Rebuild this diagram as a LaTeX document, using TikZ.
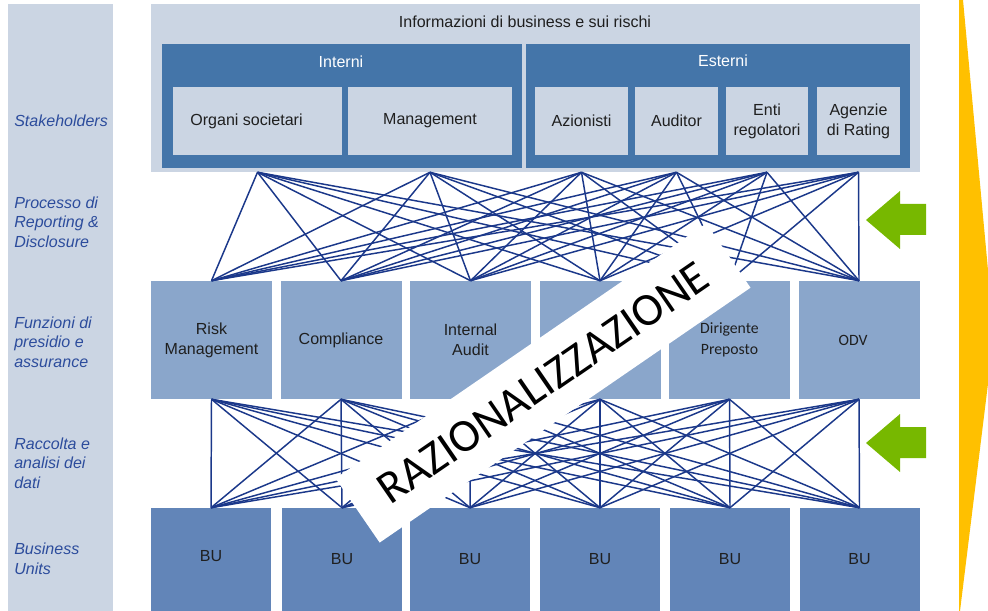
\documentclass[tikz,border=0pt]{standalone}
\usepackage{fontspec}
\setmainfont{Liberation Sans}
\newfontfamily\calibri{Carlito}
\usepackage{color}
\definecolor{paleblue}{HTML}{CBD5E3}
\definecolor{midblue}{HTML}{4475A9}
\definecolor{funcblue}{HTML}{8AA6CB}
\definecolor{bublue}{HTML}{6285B8}
\definecolor{wireblue}{HTML}{1B388A}
\definecolor{labelblue}{HTML}{2C4C9C}
\definecolor{arrowgreen}{HTML}{77B800}
\definecolor{gold}{HTML}{FFC000}
\newcommand{\unitpx}{0.25mm}
\tikzset{
  block/.style={rectangle,inner sep=0pt,draw=none,align=center,text=black!88,
    font=\fontsize{11.4}{5mm}\selectfont},
  pale/.style={block,fill=paleblue},
  group/.style={block,fill=midblue},
  func/.style={block,fill=funcblue,minimum width=121*\unitpx,minimum height=118*\unitpx},
  unit/.style={block,fill=bublue,minimum width=120*\unitpx,minimum height=103*\unitpx},
  rowlabel/.style={anchor=west,align=left,inner sep=0pt,text=labelblue,
    font=\itshape\fontsize{11.4}{4.9mm}\selectfont},
  wire/.style={draw=wireblue,line width=1.05pt},
  banner/.style={fill=white,inner sep=0pt,rotate=34.5,minimum width=450*\unitpx,
    minimum height=78*\unitpx,font=\calibri\fontsize{33}{33}\selectfont}
}

\begin{document}
\begin{tikzpicture}[x=0.25mm,y=-0.25mm]
              %\draw[help lines](0,0) grid(988,611);
              \useasboundingbox (0,0) rectangle (988,611);
              \node[pale,minimum width=105*\unitpx,minimum height=607*\unitpx] (side) at (60.5,307.5) {};
              \node[rowlabel] (l1) at (14,121) {Stakeholders};
              \node[rowlabel] (l2) at (14,222) {Processo di\\Reporting \&\\Disclosure};
              \node[rowlabel] (l3) at (14,342) {Funzioni di\\presidio e\\assurance};
              \node[rowlabel] (l4) at (14,463) {Raccolta e\\analisi dei\\dati};
              \node[rowlabel] (l5) at (14,559) {Business\\Units};

              % stakeholders
              \node[pale,minimum width=769*\unitpx,minimum height=168*\unitpx] (info) at (535.5,88) {};
              \node[block] (info-t) at (525,22) {Informazioni di business e sui rischi};
              \node[group,minimum width=360*\unitpx,minimum height=124*\unitpx] (interni) at (342,106) {};
              \node[block,text=white] (interni-t) at (341,62) {Interni};
              \node[group,minimum width=384*\unitpx,minimum height=124*\unitpx] (esterni) at (718,106) {};
              \node[block,text=white] (esterni-t) at (723,61) {Esterni};
              \node[pale,minimum width=169*\unitpx,minimum height=68*\unitpx] (s1) at (257.5,121) {\hspace*{-5.5mm}Organi societari};
              \node[pale,minimum width=164*\unitpx,minimum height=68*\unitpx] (s2) at (430,121) {Management};
              \node[pale,minimum width=93*\unitpx,minimum height=68*\unitpx] (s3) at (581.5,121) {Azionisti};
              \node[pale,minimum width=83*\unitpx,minimum height=68*\unitpx] (s4) at (676.5,121) {Auditor};
              \node[pale,minimum width=82*\unitpx,minimum height=68*\unitpx] (s5) at (767,121) {Enti\\regolatori};
              \node[pale,minimum width=83*\unitpx,minimum height=68*\unitpx] (s6) at (858.5,121) {Agenzie\\di Rating};

              % funzioni
              \node[func] (f1) at (211.5,340) {Risk\\Management};
              \node[func] (f2) at (341,340) {Compliance};
              \node[func] (f3) at (470.5,340) {Internal\\Audit};
              \node[func] (f4) at (600,340) {};
              \node[func,font=\calibri\fontsize{11.2}{5mm}\selectfont] (f5) at (729.5,340)
                {\raisebox{-1.75mm}{\begin{tabular}{@{}c@{}}Dirigente\\Preposto\end{tabular}}};
              \node[func,font=\calibri\fontsize{11.2}{5mm}\selectfont] (f6) at (859,340)
                {\hspace*{-3mm}\raisebox{-2.5mm}{ODV}};

              % business units
              \node[unit] (b1) at (211,559.5) {\raisebox{1.9mm}{BU}};
              \node[unit] (b2) at (342,559.5) {BU};
              \node[unit] (b3) at (470,559.5) {BU};
              \node[unit] (b4) at (600,559.5) {BU};
              \node[unit] (b5) at (730,559.5) {BU};
              \node[unit] (b6) at (859.5,559.5) {BU};

              \foreach \i in {1,...,6} \coordinate (t\i) at (s\i |- info.south);
              \foreach \i in {1,...,6} \foreach \j in {1,...,6} \draw[wire] (t\i) -- (f\j.north);
              \foreach \i in {1,...,6} \foreach \j in {1,...,6} \draw[wire] (f\i.south) -- (b\j.north);

              \path[fill=arrowgreen] (866,220)--(900,191)--(900,204)--(926,204)--(926,235)--(900,235)--(900,249)--cycle;
              \path[fill=arrowgreen] (866,443)--(900,414)--(900,427)--(926,427)--(926,458)--(900,458)--(900,472)--cycle;
              \begin{scope}
                \clip (0,0) rectangle (988,611);
                \path[fill=gold] (959,0)--(963,0)--(994,335)--(960,611)--(959,611)--cycle;
              \end{scope}

              \node[banner] (razio) at (543,383) {RAZIONALIZZAZIONE};
            \end{tikzpicture}
\end{document}
